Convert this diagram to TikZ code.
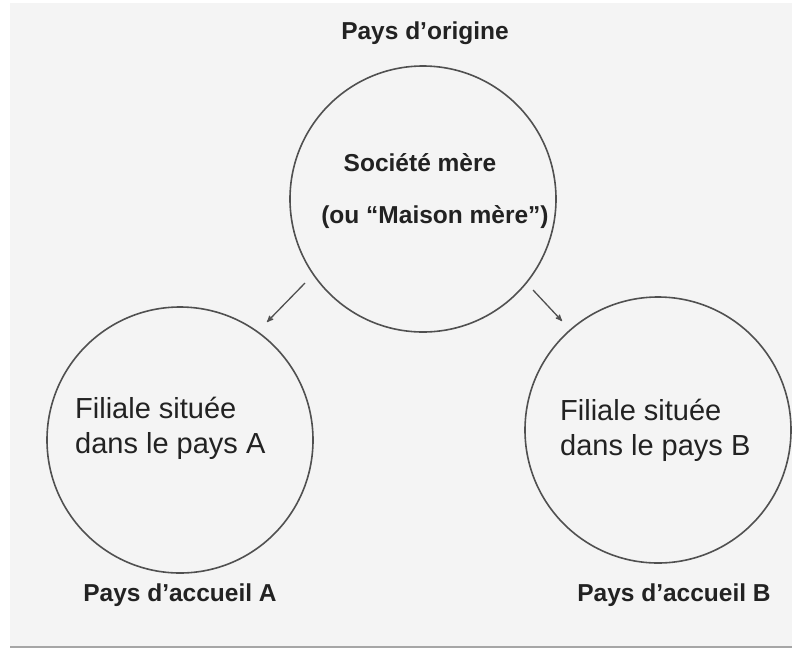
\documentclass[tikz,border=0pt]{standalone}
\usepackage{fontspec}
\setmainfont{Liberation Sans}
\usetikzlibrary{positioning, arrows}

\definecolor{fond}{HTML}{F4F4F4}
\definecolor{trait}{HTML}{505050}
\definecolor{texte}{HTML}{222222}

\begin{document}
\begin{tikzpicture}[x=1pt,y=-1pt,->,>=stealth',
                    pays node/.style={circle,draw=trait,line width=1.6pt,minimum size=266pt,inner sep=0pt},
                    titre/.style={font=\fontsize{24.5}{29}\selectfont\bfseries,text=texte},
                    filiale/.style={font=\fontsize{29}{35}\selectfont,text=texte,align=left,anchor=west,inner sep=0pt}]

        \useasboundingbox (0,0) rectangle (792,657);
        \fill[fond] (10,3) rectangle (792,647);
        \draw[-,gray!70,line width=1.2pt] (10,647) -- (792,647);

        \node[pays node] (1) at (423,199) {};
        \node[pays node] (2) at (180,440) {};
        \node[pays node] (3) at (658,430) {};

        \node[titre] (orig) at (425,33) {Pays d'origine};
        \node[titre] (soc) at (420,163) {Société mère};
        \node[titre] (mais) at (435,217) {(ou “Maison mère”)};
        \node[filiale] (filA) at (75,428) {Filiale située\\dans le pays A};
        \node[filiale] (filB) at (560,430) {Filiale située\\dans le pays B};
        \node[titre] (accA) at (180,595) {Pays d'accueil A};
        \node[titre] (accB) at (674,595) {Pays d'accueil B};

        \coordinate (a1) at (305,283);
        \coordinate (a2) at (267,322);
        \coordinate (b1) at (533,290);
        \coordinate (b2) at (562,321);

        \path[color=trait,line width=1.3pt]
            (a1) edge (a2)
            (b1) edge (b2);
\end{tikzpicture}
\end{document}
